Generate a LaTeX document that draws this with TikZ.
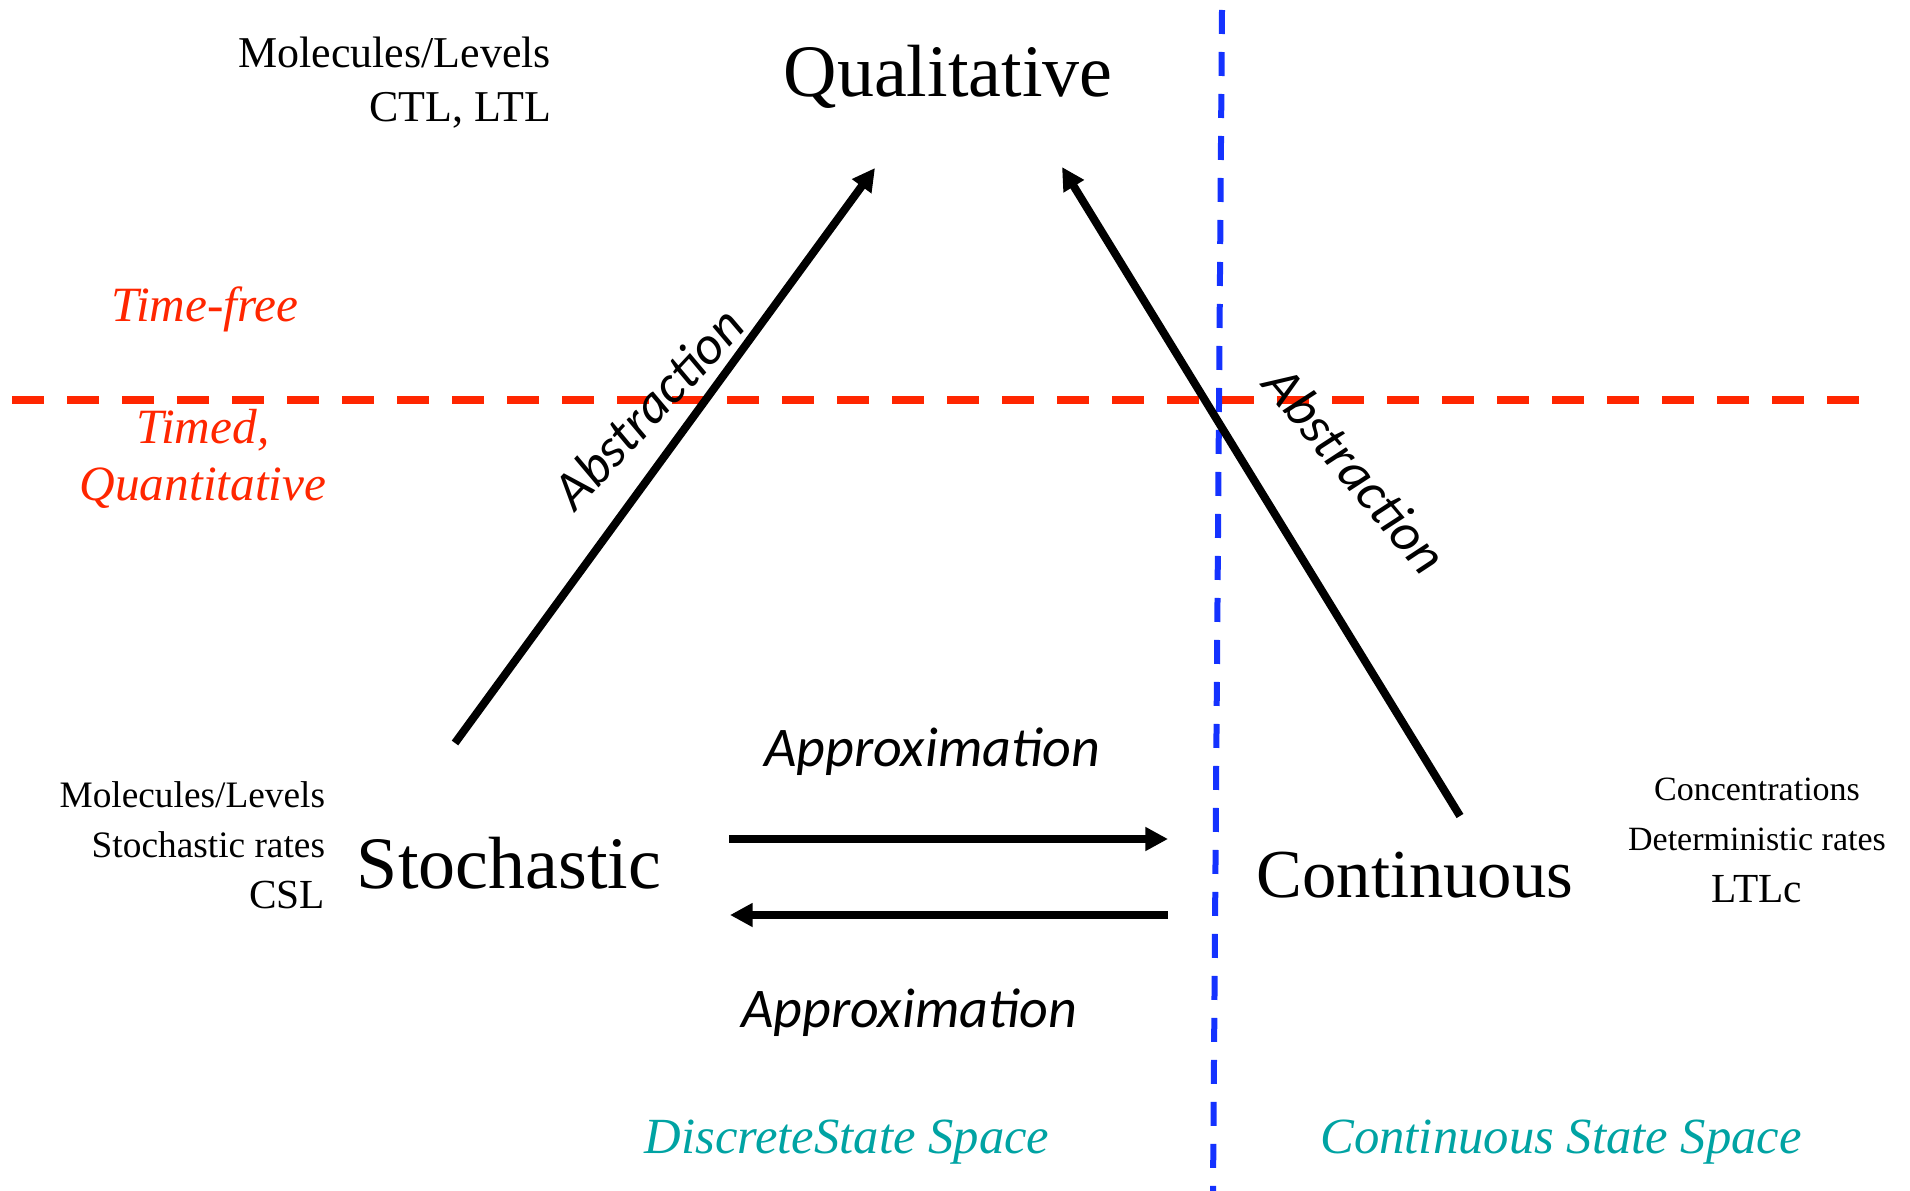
\documentclass[tikz,border=0pt]{standalone}
\usepackage{fontspec}
\setmainfont{Liberation Serif}
\newfontfamily\calib{Carlito}
\usetikzlibrary{arrows.meta}
\definecolor{tfred}{RGB}{255,38,0}
\definecolor{vblue}{RGB}{20,50,255}
\definecolor{steal}{RGB}{0,163,163}
\begin{document}
\begin{tikzpicture}[x=0.75pt,y=0.75pt,
  every node/.style={inner sep=0pt, outer sep=0pt},
  bigtxt/.style={font=\fontsize{55.5}{60}\selectfont},
  infotop/.style={font=\fontsize{33}{38}\selectfont},
  infoleft/.style={font=\fontsize{28}{32}\selectfont},
  inforight/.style={font=\fontsize{25.5}{30}\selectfont},
  timetxt/.style={font=\fontsize{37}{42}\selectfont\itshape, text=tfred},
  spacetxt/.style={font=\fontsize{38}{42}\selectfont\itshape, text=steal},
  sanslbl/.style={font=\fontsize{40.5}{45}\selectfont\calib\itshape},
  apprlbl/.style={font=\fontsize{42}{46}\selectfont\calib\itshape},
  arr/.style={line width=6pt, -{Triangle[length=17pt,width=17pt]}},
  reddash/.style={tfred, line width=6pt, dash pattern=on 24pt off 17.25pt},
  bluedash/.style={vblue, line width=4.5pt, dash pattern=on 18pt off 13.5pt}
]
\useasboundingbox (0,0) rectangle (1910,-1191);

% dividing lines
\coordinate (rl) at (12,-400);
\coordinate (rr) at (1866,-400);
\coordinate (bt) at (1222,-10);
\coordinate (bb) at (1213,-1191);
\draw[reddash] (rl) -- (rr);
\draw[bluedash] (bt) -- (bb);

% main nodes
\node[bigtxt, anchor=base] (qual) at (948,-97) {Qualitative};
\node[bigtxt, anchor=base] (stoch) at (509,-888) {Stochastic};
\node[bigtxt, anchor=base, font=\fontsize{51.5}{56}\selectfont] (cont) at (1415,-897) {Continuous};

% top-left info
\node[infotop, anchor=base east] (ml1) at (551,-68) {Molecules/Levels};
\node[infotop, anchor=base east] (ml2) at (551,-122) {CTL, LTL};

% time labels
\node[timetxt, anchor=base] (tf) at (205,-322) {Time-free};
\node[timetxt, anchor=base] (td) at (203,-443) {Timed,};
\node[timetxt, anchor=base] (qt) at (203,-500) {Quantitative};

% left info
\node[infoleft, anchor=base east] (sl1) at (325,-807) {Molecules/Levels};
\node[infoleft, anchor=base east] (sl2) at (325,-857) {Stochastic rates};
\node[infoleft, anchor=base east, font=\fontsize{31}{35}\selectfont] (sl3) at (325,-908) {CSL};

% right info
\node[inforight, anchor=base] (cr1) at (1757,-800) {Concentrations};
\node[inforight, anchor=base] (cr2) at (1757,-850) {Deterministic rates};
\node[inforight, anchor=base, font=\fontsize{31}{35}\selectfont] (cr3) at (1757,-902) {LTLc};

% space labels
\node[spacetxt, anchor=base] (dss) at (847,-1153) {DiscreteState Space};
\node[spacetxt, anchor=base] (css) at (1561,-1153) {Continuous State Space};

% arrows
\coordinate (la0) at (455,-743);
\coordinate (la1) at (875,-168);
\coordinate (ra0) at (1460,-816);
\coordinate (ra1) at (1062,-167);
\coordinate (ta0) at (729,-839);
\coordinate (ta1) at (1168,-839);
\coordinate (ba0) at (1168,-915);
\coordinate (ba1) at (730,-915);
\draw[arr] (la0) -- (la1);
\draw[arr] (ra0) -- (ra1);
\draw[arr] (ta0) -- (ta1);
\draw[arr] (ba0) -- (ba1);

% arrow labels
\node[sanslbl, rotate=47] (abl) at (648,-408) {Abstraction};
\node[sanslbl, rotate=-50] (abr) at (1356,-470) {Abstraction};
\node[apprlbl, anchor=base] (apt) at (932,-766) {Approximation};
\node[apprlbl, anchor=base] (apb) at (909,-1027) {Approximation};
\end{tikzpicture}
\end{document}
